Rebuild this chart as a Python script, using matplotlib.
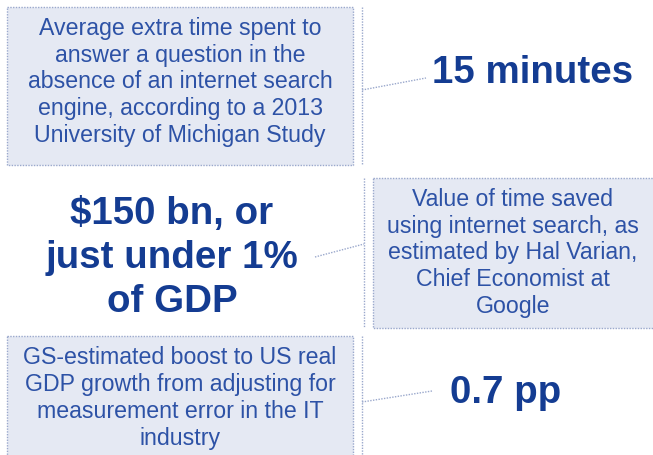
import matplotlib.pyplot as plt
from matplotlib.patches import Rectangle

plt.rcParams['font.family'] = ['Liberation Sans', 'DejaVu Sans']

# text content
descriptions = [
    "Average extra time spent to\nanswer a question in the\nabsence of an internet search\nengine, according to a 2013\nUniversity of Michigan Study",
    "Value of time saved\nusing internet search, as\nestimated by Hal Varian,\nChief Economist at\nGoogle",
    "GS-estimated boost to US real\nGDP growth from adjusting for\nmeasurement error in the IT\nindustry",
]
headlines = [
    "15 minutes",
    "$150 bn, or\njust under 1%\nof GDP",
    "0.7 pp",
]

# layout in pixels (x0, y0, x1, y1), y goes down
boxes = [(7, 7, 353, 165), (373, 178, 660, 328), (7, 336, 353, 470)]
desc_xy = [(180, 82), (513, 253), (180, 398)]
head_xy = [(533, 73), (172, 258), (506, 393)]
vlines = [(362, 7, 165), (364, 178, 327), (362, 336, 470)]
connectors = [((362, 90), (426, 78)), ((315, 257), (364, 244)), ((362, 402), (432, 391))]

W, H = 653, 455
fill = "#e5e9f3"
edge = "#9aa8cc"
txt_col = "#2d52a6"
head_col = "#143c92"

fig = plt.figure(figsize=(W / 100, H / 100), dpi=100)
ax = fig.add_axes([0, 0, 1, 1])
ax.set_xlim(0, W)
ax.set_ylim(H, 0)
ax.axis("off")

for (x0, y0, x1, y1) in boxes:
    ax.add_patch(Rectangle((x0, y0), x1 - x0, y1 - y0, facecolor=fill,
                           edgecolor=edge, linewidth=1.0, linestyle=(0, (1, 1))))

for x, ya, yb in vlines:
    ax.plot([x, x], [ya, yb], color=edge, linewidth=1.0, linestyle=(0, (1, 1)))

for (p, q) in connectors:
    ax.plot([p[0], q[0]], [p[1], q[1]], color=edge, linewidth=1.0, linestyle=(0, (1, 1)))

for s, (x, y) in zip(descriptions, desc_xy):
    ax.text(x, y, s, ha="center", va="center", color=txt_col, fontsize=16.7,
            linespacing=1.22)

for s, (x, y) in zip(headlines, head_xy):
    ax.text(x, y, s, ha="center", va="center", color=head_col, fontsize=27.7,
            fontweight="bold", linespacing=1.28)

fig.savefig("out.png", dpi=100)
